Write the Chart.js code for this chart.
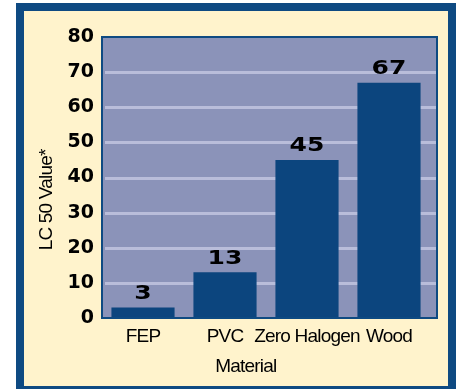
<!DOCTYPE html>
<html>
<head>
<meta charset="utf-8">
<script src="https://cdn.jsdelivr.net/npm/chart.js@4"></script>
<style>
  html, body { margin: 0; padding: 0; background: #fff; overflow: hidden; }
  #frame {
    position: absolute; left: 16px; top: 3px;
    width: 424px; height: 375px;
    border: 8px solid #0e4a82;
    background: #fff3cc;
  }
  #chart { display: block; }
</style>
</head>
<body>
<div id="frame"><canvas id="chart" width="424" height="375"></canvas></div>
<script>
const materials = ['FEP', 'PVC', 'Zero Halogen', 'Wood'];
const lc50Values = [3, 13, 45, 67];
const yTicks = [0, 10, 20, 30, 40, 50, 60, 70, 80];

const labelFont = "'Liberation Sans', Arial, sans-serif";
const plotExtra = 7; // the plot box runs a little past the last category

// plot background, grid lines and frame; the tighter letter spacing
// imitates the condensed face of the original for the axis texts
const plotFrame = {
  id: 'plotFrame',
  beforeDraw(chart) {
    const { ctx, chartArea: a, scales } = chart;
    ctx.save();
    ctx.fillStyle = '#8b93b9';
    ctx.fillRect(a.left, a.top, a.right + plotExtra - a.left, a.bottom - a.top);
    ctx.strokeStyle = '#b9bdda';
    ctx.lineWidth = 3;
    yTicks.slice(1, -1).forEach(v => {
      const y = Math.round(scales.y.getPixelForValue(v)) + 0.5;
      ctx.beginPath();
      ctx.moveTo(a.left + 3, y);
      ctx.lineTo(a.right + plotExtra, y);
      ctx.stroke();
    });
    ctx.restore();
    ctx.letterSpacing = '-0.8px';
  },
  afterDatasetsDraw(chart) {
    chart.ctx.letterSpacing = '0px';
  },
  afterDraw(chart) {
    const { ctx, chartArea: a } = chart;
    ctx.save();
    ctx.strokeStyle = '#0e4a82';
    ctx.lineWidth = 2;
    ctx.strokeRect(a.left, a.top, a.right + plotExtra - a.left, a.bottom - a.top);
    ctx.restore();
  }
};

// heavy, slightly stretched value labels above each bar
const valueLabels = {
  id: 'valueLabels',
  afterDatasetsDraw(chart) {
    const { ctx } = chart;
    const meta = chart.getDatasetMeta(0);
    ctx.save();
    ctx.letterSpacing = '0px';
    ctx.fillStyle = '#000';
    ctx.font = "bold 20px 'DejaVu Sans', sans-serif";
    ctx.textAlign = 'center';
    ctx.textBaseline = 'middle';
    meta.data.forEach((bar, i) => {
      ctx.save();
      ctx.translate(bar.x, bar.y - 14);
      ctx.scale(1.25, 1);
      ctx.fillText(String(lc50Values[i]), 0, 0);
      ctx.restore();
    });
    ctx.restore();
  }
};

new Chart(document.getElementById('chart'), {
  type: 'bar',
  data: {
    labels: materials,
    datasets: [{
      data: lc50Values,
      backgroundColor: '#0c457e',
      borderWidth: 0,
      barPercentage: 0.77,
      categoryPercentage: 1
    }]
  },
  options: {
    responsive: false,
    animation: false,
    layout: { padding: { top: 26, right: 11 + plotExtra, bottom: 0, left: 0 } },
    plugins: {
      legend: { display: false },
      tooltip: { enabled: false }
    },
    scales: {
      x: {
        afterFit: s => { s.height = 68; },
        grid: { display: false, drawTicks: false },
        border: { display: false },
        ticks: {
          padding: 7,
          autoSkip: false,
          maxRotation: 0,
          minRotation: 0,
          color: '#000',
          font: { family: labelFont, size: 19 }
        },
        title: {
          display: true,
          text: 'Material         ',
          color: '#000',
          font: { family: labelFont, size: 19 },
          padding: { top: 0, bottom: 8 }
        }
      },
      y: {
        min: 0,
        max: 80,
        afterFit: s => { s.width = 78; },
        afterBuildTicks: s => { s.ticks = yTicks.map(v => ({ value: v })); },
        grid: { display: false, drawTicks: false },
        border: { display: false },
        ticks: {
          z: 1,
          padding: 8,
          color: '#000',
          font: { family: "'DejaVu Sans', sans-serif", size: 19, weight: 'bold' }
        },
        title: {
          display: true,
          text: 'LC 50 Value*          ',
          color: '#000',
          font: { family: labelFont, size: 19 },
          padding: { top: 11, bottom: 0 }
        }
      }
    }
  },
  plugins: [plotFrame, valueLabels]
});
</script>
</body>
</html>
